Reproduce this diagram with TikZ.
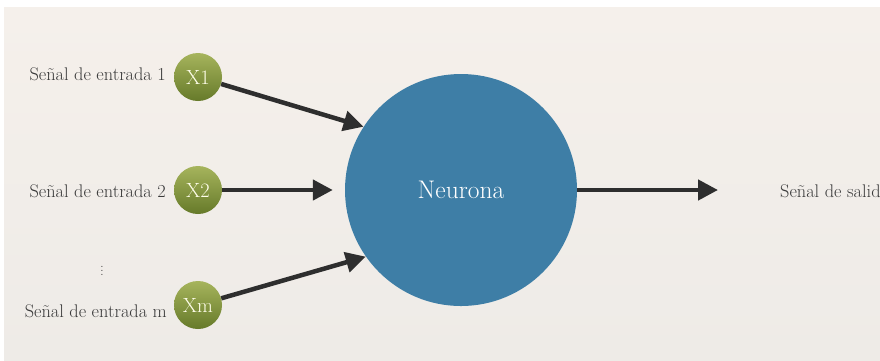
\documentclass[tikz,border=0pt]{standalone}
\usepackage{tikz}
\usetikzlibrary{arrows.meta}
\definecolor{fondo}{RGB}{245,240,235}
\definecolor{fondoB}{RGB}{238,235,231}
\definecolor{azul}{RGB}{62,126,166}
\definecolor{verdeA}{RGB}{166,180,92}
\definecolor{verdeB}{RGB}{102,122,42}
\definecolor{flecha}{RGB}{46,46,46}
\definecolor{texto}{RGB}{58,58,58}

\begin{document}
\begin{tikzpicture}[x=1pt,y=-1pt]
\tikzstyle{entrada}=[circle,minimum size=48pt,inner sep=0pt,top color=verdeA,bottom color=verdeB,text=white!92!yellow,font=\fontsize{20.5}{22}\selectfont]
\tikzstyle{etiqueta}=[text=texto,inner sep=0pt,font=\fontsize{18.3}{20}\selectfont]
\tikzstyle{flechita}=[draw=flecha,line width=4.5pt,-{Triangle[length=20pt,width=20pt]}]
\useasboundingbox (0,0) rectangle (880,360);
\shade[top color=fondo,bottom color=fondoB] (4,7) rectangle (880,360);
\node[circle,fill=azul,minimum size=232pt,inner sep=0pt,text=white,font=\fontsize{25.5}{28}\selectfont] (neurona) at (461,190) {Neurona};
\foreach \name/\point/\txt in {
	x1/{198,77}/X1,
	x2/{198,190}/X2,
	xm/{198,305}/Xm}
	\node[entrada] (\name) at (\point) {\txt};
\node[etiqueta,anchor=east] (l1) at (166,74) {Señal de entrada 1};
\node[etiqueta,anchor=east] (l2) at (166,191) {Señal de entrada 2};
\node[etiqueta,anchor=east] (lm) at (167,311) {Señal de entrada m};
\node[text=texto,inner sep=0pt,font=\fontsize{12}{14}\selectfont] (puntos) at (102,268) {$\vdots$};
\coordinate (salida) at (718,190);
\node[etiqueta,anchor=west] (ls) at (780,191) {Señal de salida};
\draw[flechita] (x1) -- (neurona.147);
\draw[flechita,shorten >=12pt] (x2) -- (neurona.west);
\draw[flechita] (xm) -- (neurona.215);
\draw[flechita] (neurona.east) -- (salida);
\end{tikzpicture}
\end{document}
